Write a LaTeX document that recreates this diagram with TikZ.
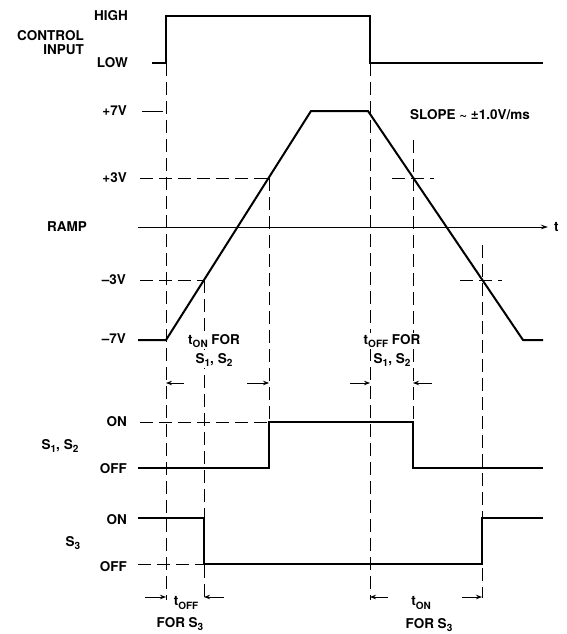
\documentclass[tikz,border=0pt]{standalone}
\usepackage{fontspec}
\setmainfont{TeX Gyre Heros}
\usetikzlibrary{arrows.meta}

\tikzset{
  lbl/.style={font=\fontsize{13.5}{14}\selectfont\bfseries, inner sep=0pt, align=center},
  note/.style={lbl, fill=white, inner sep=1pt},
  sigline/.style={line width=2pt, line join=miter},
  guide/.style={line width=0.8pt},
  dashguide/.style={line width=0.8pt, dash pattern=on 13pt off 6pt},
  tarrow/.style={line width=0.8pt, -{Stealth[length=6pt,width=4.5pt]}},
}

\begin{document}
\begin{tikzpicture}[x=1pt, y=-1pt]
    \useasboundingbox (0,0) rectangle (566,634);
    \newcommand{\subtxt}[1]{\raisebox{-3.5pt}{\fontsize{10}{10}\selectfont #1}}
    % time points
    \coordinate (tA) at (166,0);   % control rises
    \coordinate (tB) at (204,0);   % ramp at -3V
    \coordinate (tC) at (269,0);   % ramp at +3V
    \coordinate (tD) at (370,0);   % control falls
    \coordinate (tE) at (413,0);   % ramp back at +3V
    \coordinate (tF) at (482,0);   % ramp back at -3V
    % Left labels
    \node[lbl, anchor=east] (high) at (128,16) {HIGH};
    \node[lbl, anchor=east, align=right] (ctrl) at (84,43) {CONTROL\\INPUT};
    \node[lbl, anchor=east] (low) at (128,63) {LOW};
    \node[lbl, anchor=east] (p7) at (127,111) {+7V};
    \node[lbl, anchor=east] (p3) at (127,178) {+3V};
    \node[lbl, anchor=east] (ramp) at (87,227) {RAMP};
    \node[lbl, anchor=east] (m3) at (126,280) {–3V};
    \node[lbl, anchor=east] (m7) at (126,339) {–7V};
    \node[lbl, anchor=east] (on12) at (127,422) {ON};
    \node[lbl, anchor=east] (off12) at (127,469) {OFF};
    \node[lbl] (s12) at (60,446) {S\subtxt{1}, S\subtxt{2}};
    \node[lbl, anchor=east] (on3) at (127,520) {ON};
    \node[lbl, anchor=east] (off3) at (127,567) {OFF};
    \node[lbl] (s3) at (73,543) {S\subtxt{3}};
    % Ramp axis and ticks
    \draw[guide, -{Stealth[length=7pt,width=4.5pt]}] (138,227) -- (548,227) coordinate (axisend);
    \node[lbl, anchor=west] (tlbl) at ([xshift=6pt]axisend) {t};
    \draw[guide] (142,111) -- (163,111);
    \draw[dashguide] (140,178) -- (269,178);
    \draw[dashguide] (140,280) -- (204,280);
    \draw[dashguide] (392,178) -- (434,178);
    \draw[dashguide] (460,280) -- (502,280);
    \draw[dashguide] (140,422) -- (269,422);
    \draw[dashguide] (138,564) -- (204,564);
    % Vertical guides
    \draw[dashguide] (tA |- 0,63) -- (tA |- 0,600);
    \draw[dashguide] (tD |- 0,63) -- (tD |- 0,600);
    \draw[dashguide] (tB |- 0,280) -- (tB |- 0,600);
    \draw[dashguide] (tC |- 0,178) -- (tC |- 0,422);
    \draw[dashguide] (tE |- 0,140) -- (tE |- 0,422);
    \draw[dashguide] (tF |- 0,245) -- (tF |- 0,598);
    % Signals
    \draw[sigline] (152,63) -- (tA |- 0,63) -- (tA |- 0,16) -- (tD |- 0,16) -- (tD |- 0,63) -- (543,63);
    \draw[sigline] (138,340) -- (166,340) -- (311,111) -- (368,111) -- (523,340) -- (543,340);
    \draw[sigline] (138,468) -- (tC |- 0,468) -- (tC |- 0,422) -- (tE |- 0,422) -- (tE |- 0,468) -- (543,468);
    \draw[sigline] (138,518) -- (tB |- 0,518) -- (tB |- 0,564) -- (tF |- 0,564) -- (tF |- 0,518) -- (543,518);
    \node[lbl] (slope) at (470,115) {SLOPE \textasciitilde{} ±1.0V/ms};
    % Switching times
    \node[note] (ton12) at (214,341) {t\subtxt{ON} FOR};
    \node[note] (ton12b) at (214,360) {S\subtxt{1}, S\subtxt{2}};
    \draw[tarrow] (184,383) -- (tA |- 0,383);
    \draw[tarrow] (247,383) -- (tC |- 0,383);
    \node[note] (toff12) at (392,341) {t\subtxt{OFF} FOR};
    \node[note] (toff12b) at (392,360) {S\subtxt{1}, S\subtxt{2}};
    \draw[tarrow] (350,383) -- (tD |- 0,383);
    \draw[tarrow] (432,383) -- (tE |- 0,383);
    \node[lbl] (toff3) at (186,603) {t\subtxt{OFF}};
    \node[lbl] (toff3b) at (180,624) {FOR S\subtxt{3}};
    \draw[tarrow] (145,597) -- (tA |- 0,597);
    \draw[tarrow] (224,597) -- (tB |- 0,597);
    \node[lbl] (ton3) at (421,603) {t\subtxt{ON}};
    \node[lbl] (ton3b) at (429,625) {FOR S\subtxt{3}};
    \draw[tarrow] (388,597) -- (tD |- 0,597);
    \draw[tarrow] (462,597) -- (tF |- 0,597);
\end{tikzpicture}
\end{document}
